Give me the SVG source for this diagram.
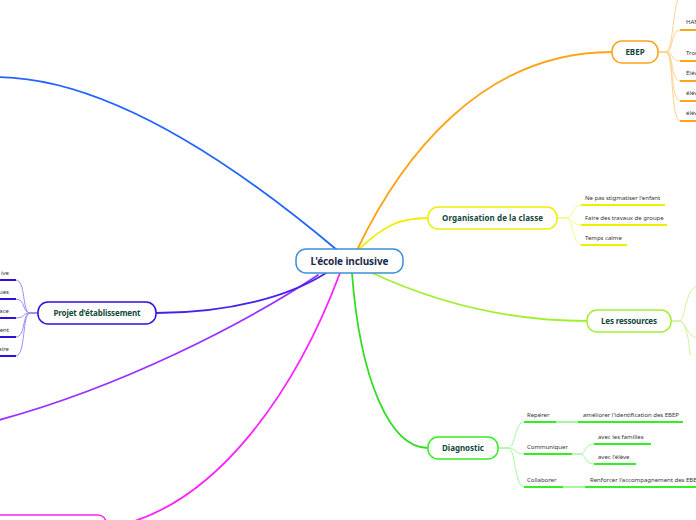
<svg xmlns="http://www.w3.org/2000/svg" width="696" height="520" viewBox="0 0 696 520">
<style>
.c{fill:none;stroke-linecap:round}
.m{stroke-width:1.8}
.f{stroke-width:1}
.n{fill:#fff;stroke-width:1.5}
.nt{font-family:"Noto Sans","Open Sans",sans-serif;font-weight:700;font-size:8px;fill:#13473a;text-anchor:middle}
.t{font-family:"Noto Sans","Open Sans",sans-serif;font-size:6px;fill:#333}
.u{fill:none;stroke-width:2}
.or{stroke:#ffa31a}.orl{stroke:#ffd28f}
.ye{stroke:#eeee00}.yel{stroke:#f7f78a}
.li{stroke:#a3ee33}.lil{stroke:#cdf59a}
.gr{stroke:#33ee22}.grl{stroke:#a6f7a0}
.bl{stroke:#2a11dd}.bll{stroke:#9a8cff}
</style>
<rect width="696" height="520" fill="#fff"/>
<g id="connectors">
  <path class="c m" stroke="#2266ff" d="M337,250 Q131.5,77 -4,77"/>
  <path class="c m or" d="M357,250 C400,160 480,52 612,52"/>
  <path class="c m ye" d="M359,249 C385,225 400,218 428,218"/>
  <path class="c m li" d="M370,272 C430,300 500,321 587,321"/>
  <path class="c m" stroke="#33dd22" d="M352,273 C360,380 390,448 428,448"/>
  <path class="c m" stroke="#ff22ff" d="M340,273 C300,380 220,510 106,528"/>
  <path class="c m" stroke="#9933ff" d="M318,275 C250,320 120,390 -20,425"/>
  <path class="c m" stroke="#4422ee" d="M156,313 C230,313 290,296 326,273"/>
  <!-- EBEP fan -->
  <path class="c f orl" d="M658,52 H666 C674,52 672,-2 682,-8"/>
  <path class="c f orl" d="M658,52 H666 C674,52 670,30 680,30"/>
  <path class="c f orl" d="M658,52 H666 C674,52 670,61 680,61"/>
  <path class="c f orl" d="M658,52 H666 C674,52 670,81 680,81"/>
  <path class="c f orl" d="M658,52 H666 C674,52 670,101 680,101"/>
  <path class="c f orl" d="M658,52 H666 C674,52 670,121 680,121"/>
  <!-- Organisation fan -->
  <path class="c f yel" d="M557,218 H566 C574,218 572,205 581,205"/>
  <path class="c f yel" d="M557,218 H566 C574,218 572,225 581,225"/>
  <path class="c f yel" d="M557,218 H566 C574,218 572,245 581,245"/>
  <!-- Ressources fan -->
  <path class="c f lil" d="M671,321 H679 C686,321 684,290 697,286"/>
  <path class="c f lil" d="M671,321 H679 C686,321 686,336 697,338"/>
  <path class="c f lil" d="M671,321 H679 C686,321 689,340 690,355"/>
  <!-- Diagnostic fan -->
  <path class="c f grl" d="M498,448 H508 C516,448 514,422 524,422"/>
  <path class="c f grl" d="M498,448 H508 C516,448 514,454 524,454"/>
  <path class="c f grl" d="M498,448 H508 C516,448 514,487 524,487"/>
  <path class="c u grl" d="M556,422 H578"/>
  <path class="c f grl" d="M572,454 H580 C586,454 584,444 594,444"/>
  <path class="c f grl" d="M572,454 H580 C586,454 584,464 594,464"/>
  <path class="c u grl" d="M563,487 H585"/>
  <!-- Projet fan -->
  <path class="c f bll" d="M38,313 H30 C22,313 26,280 16,280"/>
  <path class="c f bll" d="M38,313 H30 C22,313 26,299 16,299"/>
  <path class="c f bll" d="M38,313 H30 C22,313 26,318 16,318"/>
  <path class="c f bll" d="M38,313 H30 C22,313 26,337 16,337"/>
  <path class="c f bll" d="M38,313 H30 C22,313 26,356 16,356"/>
</g>
<g id="center">
  <rect class="n" x="296" y="249" width="107" height="24" rx="10" stroke="#3d8fd6"/>
  <text x="349.5" y="265" font-family="Noto Sans, Open Sans, sans-serif" font-weight="700" font-size="10" fill="#1b2b4b" text-anchor="middle" textLength="78">L'école inclusive</text>
</g>
<g id="ebep">
  <rect class="n" x="612" y="41" width="46" height="22" rx="10" stroke="#ffa31a"/>
  <text class="nt" x="635" y="55">EBEP</text>
</g>
<g id="ebep-1"><path class="u or" d="M680,30 H700"/><text class="t" x="686" y="24">HAN</text></g>
<g id="ebep-2"><path class="u or" d="M680,61 H700"/><text class="t" x="686" y="55">Trou</text></g>
<g id="ebep-3"><path class="u or" d="M680,81 H700"/><text class="t" x="686" y="75">Élév</text></g>
<g id="ebep-4"><path class="u or" d="M680,101 H700"/><text class="t" x="686" y="95">élév</text></g>
<g id="ebep-5"><path class="u or" d="M680,121 H700"/><text class="t" x="686" y="115">élév</text></g>
<g id="organisation">
  <rect class="n" x="428" y="207" width="129" height="22" rx="10" stroke="#eeee00"/>
  <text class="nt" x="492.5" y="221" textLength="101">Organisation de la classe</text>
</g>
<g id="org-1"><path class="u ye" d="M581,205 H665"/><text class="t" x="585" y="200">Ne pas stigmatiser l'enfant</text></g>
<g id="org-2"><path class="u ye" d="M581,225 H667"/><text class="t" x="585" y="220">Faire des travaux de groupe</text></g>
<g id="org-3"><path class="u ye" d="M581,245 H627"/><text class="t" x="585" y="240">Temps calme</text></g>
<g id="ressources">
  <rect class="n" x="587" y="310" width="84" height="22" rx="10" stroke="#a3ee33"/>
  <text class="nt" x="629" y="324" textLength="56">Les ressources</text>
</g>
<g id="diagnostic">
  <rect class="n" x="428" y="437" width="70" height="22" rx="10" stroke="#33ee22"/>
  <text class="nt" x="463" y="451" textLength="42">Diagnostic</text>
</g>
<g id="diag-reperer"><path class="u gr" d="M524,422 H556"/><text class="t" x="527" y="417">Repérer</text></g>
<g id="diag-ameliorer"><path class="u gr" d="M578,422 H683"/><text class="t" x="583" y="417">améliorer l'identification des EBEP</text></g>
<g id="diag-communiquer"><path class="u gr" d="M524,454 H572"/><text class="t" x="527" y="449">Communiquer</text></g>
<g id="diag-familles"><path class="u gr" d="M594,444 H651"/><text class="t" x="598" y="439">avec les familles</text></g>
<g id="diag-eleve"><path class="u gr" d="M594,464 H636"/><text class="t" x="598" y="459">avec l'élève</text></g>
<g id="diag-collaborer"><path class="u gr" d="M524,487 H563"/><text class="t" x="527" y="482">Collaborer</text></g>
<g id="diag-renforcer"><path class="u gr" d="M585,487 H700"/><text class="t" x="590" y="482">Renforcer l'accompagnement des  EBEP</text></g>
<g id="projet">
  <rect class="n" x="38" y="302" width="118" height="22" rx="10" stroke="#2a11dd"/>
  <text class="nt" x="97" y="316" textLength="87">Projet d'établissement</text>
</g>
<g id="projet-1"><path class="u bl" d="M-4,280 H16"/><text class="t" x="9" y="275" text-anchor="end">ive</text></g>
<g id="projet-2"><path class="u bl" d="M-4,299 H16"/><text class="t" x="9" y="294" text-anchor="end">ues</text></g>
<g id="projet-3"><path class="u bl" d="M-4,318 H16"/><text class="t" x="9" y="313" text-anchor="end">ace</text></g>
<g id="projet-4"><path class="u bl" d="M-4,337 H16"/><text class="t" x="9" y="332" text-anchor="end">ent</text></g>
<g id="projet-5"><path class="u bl" d="M-4,356 H16"/><text class="t" x="9" y="351" text-anchor="end">aire</text></g>
<g id="magenta-node">
  <rect class="n" x="-20" y="515" width="126" height="30" rx="8" stroke="#ff22ff"/>
</g>
</svg>
